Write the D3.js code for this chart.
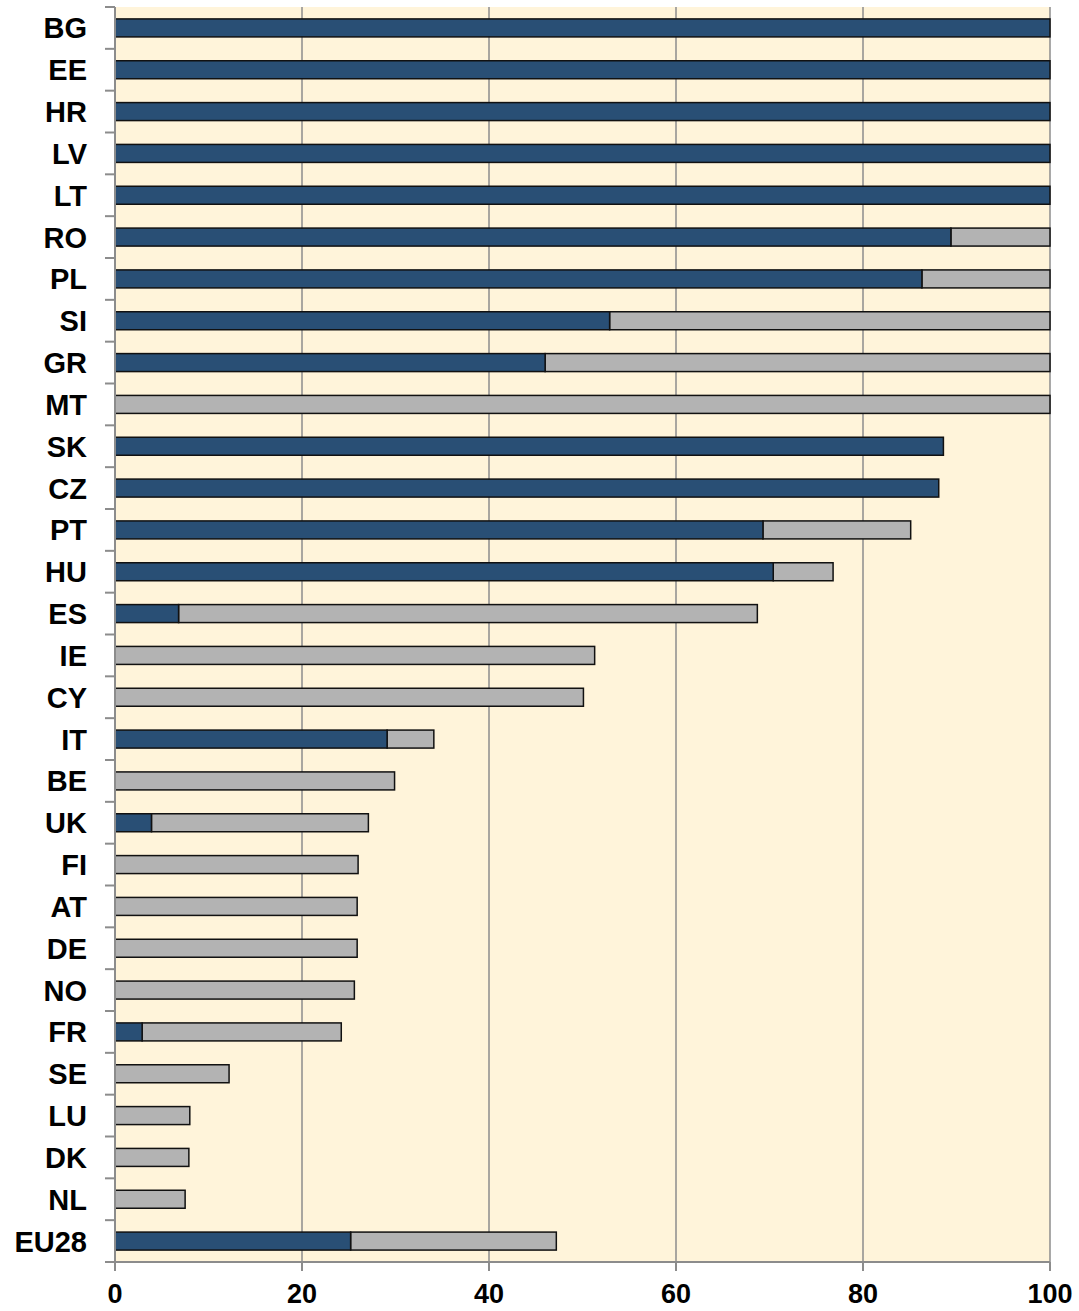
<!DOCTYPE html>
<html><head><meta charset="utf-8">
<script src="https://cdn.jsdelivr.net/npm/d3@7"></script>
<style>body{margin:0;background:#fff;} svg{display:block;}</style>
</head><body>
<svg id="c" width="1079" height="1311"></svg>
<script>
const categories = ["BG","EE","HR","LV","LT","RO","PL","SI","GR","MT","SK","CZ","PT","HU","ES","IE","CY","IT","BE","UK","FI","AT","DE","NO","FR","SE","LU","DK","NL","EU28"];
const blueValues = [100,100,100,100,100,89.4,86.3,52.9,46.0,0,88.6,88.1,69.3,70.4,6.8,0,0,29.1,0,3.9,0,0,0,0,2.9,0,0,0,0,25.2];
const grayValues = [0,0,0,0,0,10.6,13.7,47.1,54.0,100,0,0,15.8,6.4,61.9,51.3,50.1,5.0,29.9,23.2,26.0,25.9,25.9,25.6,21.3,12.2,8.0,7.9,7.5,22.0];
const xTicks = [0,20,40,60,80,100];

const svg = d3.select("#c");
const m = {left:115, right:1050, top:7, bottom:1262};
const x = d3.scaleLinear().domain([0,100]).range([m.left, m.right]);
const y = d3.scaleBand().domain(categories).range([m.top, m.bottom]).paddingInner(0.57).paddingOuter(0.285);
const yb = d3.scaleBand().domain(categories).range([m.top, m.bottom]);
const font = "Liberation Sans, Arial, sans-serif";

svg.append("rect").attr("x",m.left).attr("y",m.top).attr("width",m.right-m.left).attr("height",m.bottom-m.top).attr("fill","#FFF4DA");

svg.append("g").selectAll("line").data(xTicks.filter(d=>d>0)).join("line")
  .attr("x1",d=>x(d)).attr("x2",d=>x(d)).attr("y1",m.top).attr("y2",m.bottom)
  .attr("stroke","#8c8c8c").attr("stroke-width",1.5);

const data = categories.map((c,i)=>({c, b:blueValues[i], g:grayValues[i]}));
const bars = svg.append("g");
bars.selectAll("rect.g").data(data.filter(d=>d.g>0)).join("rect").attr("class","g")
  .attr("x",d=>x(d.b)).attr("width",d=>x(d.b+d.g)-x(d.b))
  .attr("y",d=>y(d.c)).attr("height",y.bandwidth())
  .attr("fill","#B3B3B3").attr("stroke","#111").attr("stroke-width",1.5);
bars.selectAll("rect.b").data(data.filter(d=>d.b>0)).join("rect").attr("class","b")
  .attr("x",x(0)).attr("width",d=>x(d.b)-x(0))
  .attr("y",d=>y(d.c)).attr("height",y.bandwidth())
  .attr("fill","#294F75").attr("stroke","#111").attr("stroke-width",1.5);

// left axis
const ax = svg.append("g");
ax.append("line").attr("x1",m.left).attr("x2",m.left).attr("y1",m.top).attr("y2",m.bottom+8).attr("stroke","#8c8c8c").attr("stroke-width",2);
const bounds = d3.range(categories.length+1).map(i=>m.top+i*yb.step());
ax.selectAll("line.t").data(bounds).join("line").attr("class","t")
  .attr("x1",m.left-10).attr("x2",m.left).attr("y1",d=>d).attr("y2",d=>d)
  .attr("stroke","#8c8c8c").attr("stroke-width",2);
ax.selectAll("text").data(categories).join("text")
  .attr("x",87).attr("y",d=>yb(d)+yb.bandwidth()/2).attr("dy","0.36em")
  .attr("text-anchor","end").attr("font-family",font)
  .attr("font-weight","bold").attr("font-size",29).text(d=>d);

// bottom axis
const bx = svg.append("g");
bx.append("line").attr("x1",m.left).attr("x2",m.right).attr("y1",m.bottom).attr("y2",m.bottom).attr("stroke","#8c8c8c").attr("stroke-width",2);
bx.selectAll("line.t").data(xTicks).join("line").attr("class","t")
  .attr("x1",d=>x(d)).attr("x2",d=>x(d)).attr("y1",m.bottom).attr("y2",m.bottom+9)
  .attr("stroke","#8c8c8c").attr("stroke-width",2);
bx.selectAll("text").data(xTicks).join("text")
  .attr("x",d=>x(d)).attr("y",1303).attr("text-anchor","middle")
  .attr("font-family",font).attr("font-weight","bold").attr("font-size",27).text(d=>d);
</script>
</body></html>
